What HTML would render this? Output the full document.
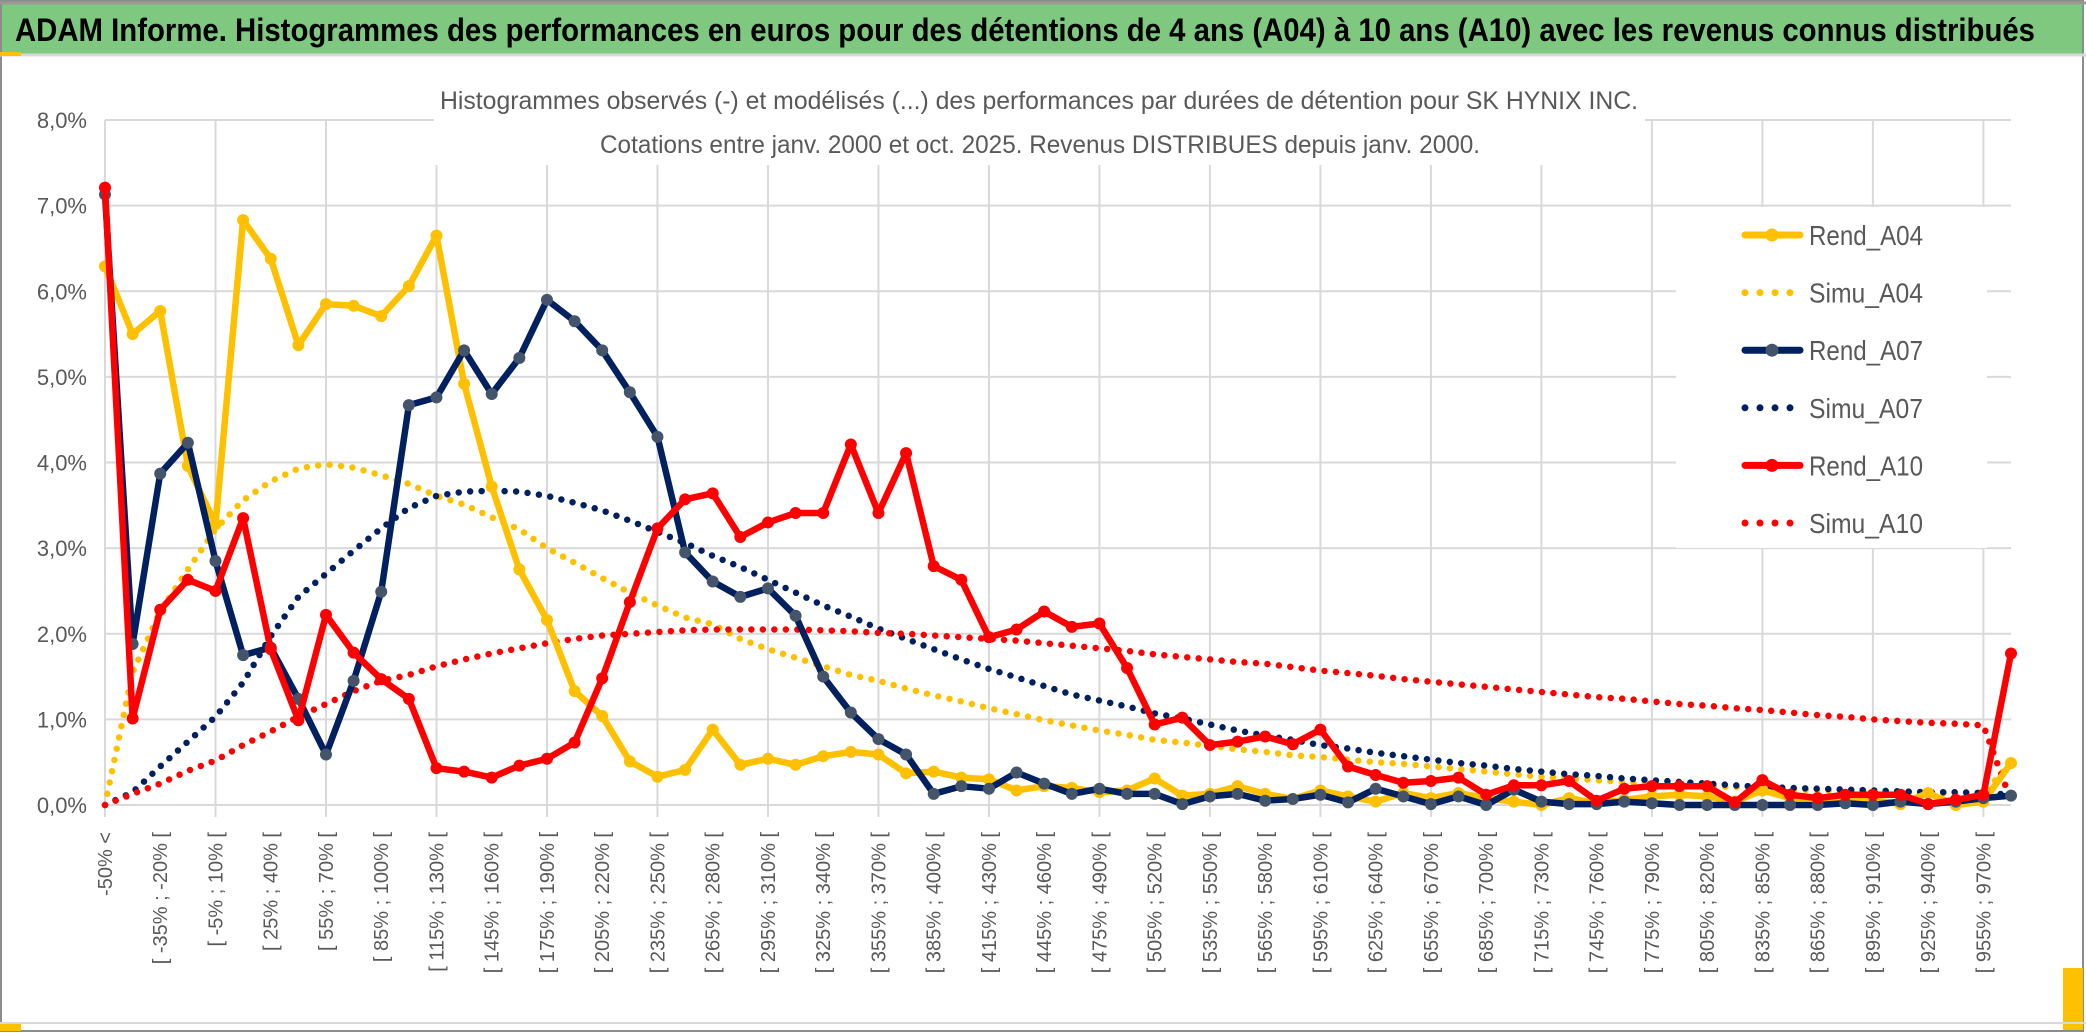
<!DOCTYPE html>
<html><head><meta charset="utf-8"><style>
html,body{margin:0;padding:0;background:#fff;}
svg{display:block;font-family:"Liberation Sans",sans-serif;}
</style></head><body>
<svg id="chart" width="2086" height="1033" viewBox="0 0 2086 1033" xmlns="http://www.w3.org/2000/svg">
<rect x="0" y="0" width="2086" height="1033" fill="#fff"/>
<rect x="1" y="1" width="2082" height="1030" fill="none" stroke="#8c8c8c" stroke-width="2"/>
<rect x="2" y="3" width="2080" height="51" fill="#7ec87f"/>
<line x1="0" y1="3" x2="2086" y2="3" stroke="#999" stroke-width="3"/>
<line x1="0" y1="55" x2="2086" y2="55" stroke="#d9d9d9" stroke-width="3"/>
<rect x="0" y="52" width="21" height="4" fill="#ffc000"/>
<rect x="0" y="1023" width="21" height="8" fill="#ffc000"/>
<rect x="2063" y="968" width="20" height="62" fill="#ffc000"/>
<line x1="0" y1="1023" x2="2086" y2="1023" stroke="#d9d9d9" stroke-width="2"/>
<text x="15" y="41" font-size="32" font-weight="bold" fill="#000" textLength="2020" lengthAdjust="spacingAndGlyphs">ADAM Informe. Histogrammes des performances en euros pour des détentions de 4 ans (A04) à 10 ans (A10) avec les revenus connus distribués</text>
<g id="grid"></g>
<rect x="434" y="60" width="1211" height="105" fill="#fff"/>
<text x="440" y="109" font-size="25" fill="#595959" textLength="1198" lengthAdjust="spacingAndGlyphs">Histogrammes observés (-) et modélisés (...) des performances par durées de détention pour SK HYNIX INC.</text>
<text x="600" y="153" font-size="25" fill="#595959" textLength="880" lengthAdjust="spacingAndGlyphs">Cotations entre janv. 2000 et oct. 2025. Revenus DISTRIBUES depuis janv. 2000.</text>
<g id="yaxis"></g>
<g id="xaxis"></g>
<g id="series"></g>
<rect x="1676" y="207" width="311" height="341" fill="#fff"/>
<g id="legend"></g>
</svg>
<script>
const yTicks=[0,1,2,3,4,5,6,7,8];
const rendA04=[6.29,5.50,5.77,3.96,3.28,6.83,6.38,5.37,5.85,5.83,5.71,6.06,6.65,4.92,3.72,2.75,2.16,1.33,1.04,0.51,0.33,0.41,0.88,0.47,0.54,0.47,0.57,0.62,0.59,0.37,0.39,0.32,0.30,0.17,0.22,0.20,0.15,0.17,0.31,0.11,0.13,0.22,0.13,0.07,0.17,0.10,0.04,0.14,0.08,0.14,0.08,0.04,0.00,0.08,0.02,0.06,0.10,0.12,0.10,0.04,0.17,0.08,0.08,0.07,0.06,0.01,0.14,0.00,0.04,0.49];
const simuA04=[0.00,1.55,2.26,2.75,3.22,3.56,3.78,3.93,3.98,3.94,3.85,3.75,3.61,3.51,3.36,3.22,3.00,2.83,2.65,2.48,2.33,2.19,2.11,1.94,1.82,1.72,1.62,1.52,1.45,1.36,1.28,1.21,1.13,1.06,0.99,0.93,0.87,0.82,0.76,0.73,0.69,0.65,0.62,0.58,0.56,0.53,0.50,0.48,0.45,0.42,0.39,0.36,0.33,0.31,0.29,0.27,0.25,0.24,0.22,0.21,0.19,0.18,0.17,0.17,0.16,0.15,0.14,0.14,0.13,0.50];
const rendA07=[7.13,1.88,3.87,4.23,2.85,1.75,1.84,1.24,0.59,1.45,2.49,4.67,4.76,5.31,4.80,5.22,5.90,5.65,5.31,4.82,4.30,2.95,2.61,2.43,2.53,2.21,1.50,1.08,0.77,0.59,0.13,0.22,0.19,0.38,0.25,0.13,0.19,0.13,0.13,0.01,0.10,0.13,0.05,0.07,0.12,0.03,0.19,0.10,0.01,0.10,0.00,0.18,0.04,0.01,0.01,0.04,0.02,0.00,0.00,0.00,0.00,0.00,0.00,0.02,0.00,0.04,0.01,0.04,0.08,0.11];
const simuA07=[0.00,0.15,0.45,0.74,1.03,1.43,1.97,2.43,2.70,2.97,3.23,3.47,3.61,3.66,3.67,3.66,3.61,3.53,3.44,3.32,3.19,3.06,2.91,2.78,2.63,2.48,2.33,2.20,2.06,1.94,1.82,1.70,1.59,1.49,1.39,1.29,1.22,1.15,1.07,1.01,0.94,0.87,0.81,0.76,0.70,0.66,0.61,0.57,0.53,0.49,0.46,0.42,0.39,0.36,0.34,0.31,0.29,0.27,0.25,0.23,0.21,0.20,0.19,0.18,0.17,0.16,0.15,0.15,0.14,0.12];
const rendA10=[7.21,1.01,2.28,2.63,2.50,3.35,1.82,0.99,2.22,1.78,1.47,1.24,0.43,0.39,0.32,0.46,0.54,0.73,1.48,2.37,3.23,3.57,3.64,3.13,3.30,3.41,3.41,4.21,3.41,4.11,2.79,2.63,1.96,2.05,2.26,2.08,2.12,1.60,0.94,1.02,0.70,0.74,0.80,0.71,0.88,0.45,0.35,0.26,0.28,0.32,0.12,0.23,0.23,0.28,0.05,0.19,0.22,0.22,0.22,0.03,0.29,0.12,0.08,0.12,0.12,0.12,0.01,0.06,0.12,1.77];
const simuA10=[0.00,0.13,0.25,0.40,0.52,0.70,0.86,1.03,1.18,1.33,1.45,1.52,1.62,1.70,1.77,1.83,1.89,1.94,1.98,2.00,2.02,2.04,2.05,2.05,2.05,2.05,2.04,2.03,2.01,2.00,1.98,1.96,1.94,1.92,1.89,1.86,1.83,1.80,1.76,1.73,1.70,1.67,1.65,1.61,1.57,1.54,1.51,1.47,1.44,1.41,1.38,1.35,1.32,1.29,1.26,1.24,1.21,1.18,1.16,1.13,1.11,1.08,1.05,1.03,1.00,0.98,0.96,0.95,0.93,0.05];
const seriesNames=["Rend_A04","Simu_A04","Rend_A07","Simu_A07","Rend_A10","Simu_A10"];

const NS="http://www.w3.org/2000/svg";
const N=rendA04.length;
const X0=105,X1=2011,Y0=805,Y8=120;
function xs(i){return X0+(X1-X0)*i/(N-1);}
function ys(v){return Y0-(Y0-Y8)*v/8;}
function mk(tag,attrs,parent){const e=document.createElementNS(NS,tag);for(const k in attrs)e.setAttribute(k,attrs[k]);parent.appendChild(e);return e;}
function catLabel(i){if(i===0)return "-50% <";const a=-50+15*(i-1);return "[ "+a+"% ; "+(a+15)+"% [";}

const grid=document.getElementById('grid');
yTicks.forEach(t=>{const l=mk('line',{x1:X0,x2:X1,y1:ys(t),y2:ys(t),stroke:'#d9d9d9','stroke-width':2},grid);

});
for(let i=0;i<N;i+=4){const l=mk('line',{x1:xs(i),x2:xs(i),y1:Y8,y2:Y0+12,stroke:'#d9d9d9','stroke-width':2},grid);

}

const ya=document.getElementById('yaxis');
yTicks.forEach(t=>{const tx=mk('text',{x:87,y:ys(t)+8,'text-anchor':'end','font-size':22,fill:'#595959'},ya);tx.textContent=t.toFixed(1).replace('.',',')+'%';

});

const xa=document.getElementById('xaxis');
for(let i=0;i<N;i+=2){const x=xs(i),y=832;const tx=mk('text',{x:x,y:y,'text-anchor':'end','font-size':20,fill:'#595959',transform:'rotate(-90 '+x+' '+y+')','dy':'7'},xa);tx.textContent=catLabel(i);

}

const sg=document.getElementById('series');
function pts(arr){return arr.map((v,i)=>xs(i).toFixed(1)+','+ys(v).toFixed(1)).join(' ');}
function dotted(arr,color,name){const p=mk('polyline',{points:pts(arr),fill:'none',stroke:color,'stroke-width':6.5,'stroke-linecap':'round','stroke-dasharray':'0 11.5'},sg);

}
function solid(arr,color,mcolor,name){const g=mk('g',{},sg);


const p=mk('polyline',{points:pts(arr),fill:'none',stroke:color,'stroke-width':6.5,'stroke-linejoin':'round'},g);


arr.forEach((v,i)=>{const c=mk('circle',{cx:xs(i),cy:ys(v),r:6,fill:mcolor},g);

});}
dotted(simuA04,'#ffc000','simu-a04-line');
dotted(simuA07,'#002060','simu-a07-line');
dotted(simuA10,'#ff0000','simu-a10-line');
solid(rendA04,'#ffc000','#ffc000','rend-a04-series');
solid(rendA07,'#002060','#44546a','rend-a07-series');
solid(rendA10,'#ff0000','#ff0000','rend-a10-series');

const lg=document.getElementById('legend');
const lcolors=['#ffc000','#ffc000','#002060','#002060','#ff0000','#ff0000'];
const lmark=['#ffc000',null,'#44546a',null,'#ff0000',null];
seriesNames.forEach((n,k)=>{const y=235+57.6*k;const g=mk('g',{},lg);


if(k%2===0){mk('line',{x1:1745,x2:1800,y1:y,y2:y,stroke:lcolors[k],'stroke-width':7,'stroke-linecap':'round'},g);mk('circle',{cx:1772,cy:y,r:6.5,fill:lmark[k]},g);}
else{mk('line',{x1:1745,x2:1792,y1:y,y2:y,stroke:lcolors[k],'stroke-width':7,'stroke-linecap':'round','stroke-dasharray':'0 15'},g);}
const t=mk('text',{x:1809,y:y+10,'font-size':28,fill:'#595959',textLength:114,lengthAdjust:'spacingAndGlyphs'},g);t.textContent=n;});
</script>
</body></html>
